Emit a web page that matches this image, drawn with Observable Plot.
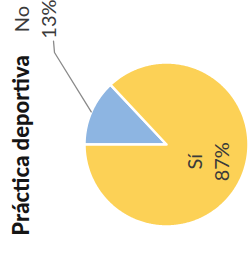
<!DOCTYPE html>
<html><head><meta charset="utf-8">
<script src="https://cdn.jsdelivr.net/npm/d3@7"></script>
<script src="https://cdn.jsdelivr.net/npm/@observablehq/plot@0.6"></script>
<style>html,body{margin:0;padding:0;background:#fff} svg{display:block}</style>
</head><body><div id="chart"></div>
<script>
// ---- data ----
const title = "Práctica deportiva";
const categories = ["No", "Sí"];
const values = [13, 87];
const percentLabels = ["13%", "87%"];
const colors = ["#8DB5E2", "#FCD156"];

// ---- layout (label placement, in pie-radius units) ----
const outsideLabel = {x: -1.62, y: 1.53, elbow: [-1.366, 1.122], end: [-1.378, 1.26]};
const insideRadius = 0.53;

const arcs = d3.pie().sort(null).startAngle(-Math.PI / 2).endAngle(1.5 * Math.PI)(values);
const slices = arcs.map((p, i) => ({category: categories[i], label: percentLabels[i], a0: p.startAngle, a1: p.endAngle, mid: (p.startAngle + p.endAngle) / 2, color: colors[i]}));

function wedge(s) {
  const n = Math.max(2, Math.ceil((s.a1 - s.a0) / 0.01));
  const arc = d3.range(n + 1).map(k => s.a0 + (s.a1 - s.a0) * k / n);
  return [{x: 0, y: 0}, ...arc.map(a => ({x: Math.sin(a), y: Math.cos(a)})), {x: 0, y: 0}];
}

const small = slices[0], big = slices[1];
const leader = [
  {x: Math.sin(small.mid), y: Math.cos(small.mid)},
  {x: outsideLabel.elbow[0], y: outsideLabel.elbow[1]},
  {x: outsideLabel.end[0], y: outsideLabel.end[1]}
];
const labels = [
  {x: outsideLabel.x, y: outsideLabel.y, text: small.category + "\n" + small.label},
  {x: insideRadius * Math.sin(big.mid), y: insideRadius * Math.cos(big.mid), text: big.category + "\n" + big.label}
];

const font = "Lato, 'Noto Sans', sans-serif";
const chart = Plot.plot({
  width: 248, height: 253,
  margin: 0,
  style: {fontFamily: font, background: "#fff"},
  x: {domain: [-1, 1], range: [84, 248], axis: null},
  y: {domain: [-1, 1], range: [226, 62], axis: null},
  marks: [
    ...slices.map(s => Plot.line(wedge(s), {x: "x", y: "y", fill: s.color, stroke: "#fff", strokeWidth: 2.5, strokeLinejoin: "round"})),
    Plot.line(leader, {x: "x", y: "y", stroke: "#8a8a8a", strokeWidth: 1.3}),
    Plot.text(labels, {x: "x", y: "y", text: "text", rotate: -90, fontSize: 20, lineHeight: 1.35, fill: "#3a3a3a", textAnchor: "middle", lineAnchor: "middle"}),
    Plot.text([title], {frameAnchor: "left", dx: 21, dy: 18.5, rotate: -90, fontSize: 22, fontWeight: 900, fill: "#151515", textAnchor: "middle", lineAnchor: "middle"})
  ]
});
document.getElementById("chart").append(chart);
</script>
</body></html>
